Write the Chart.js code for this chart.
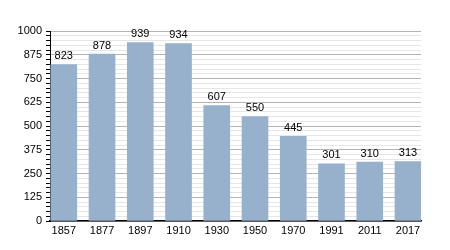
<!DOCTYPE html>
<html>
<head>
<meta charset="utf-8">
<script src="https://cdn.jsdelivr.net/npm/chart.js@4/dist/chart.umd.min.js"></script>
<style>
  body { margin: 0; background: #fff; }
  #wrap { width: 450px; height: 250px; }
</style>
</head>
<body>
<div id="wrap"><canvas id="canvas"></canvas></div>
<script>
// Population by census year
const years = ["1857", "1877", "1897", "1910", "1930", "1950", "1970", "1991", "2011", "2017"];
const population = [823, 878, 939, 934, 607, 550, 445, 301, 310, 313];

// Value labels above each bar
const valueLabels = {
  id: "valueLabels",
  afterDatasetsDraw(chart) {
    const ctx = chart.ctx;
    const meta = chart.getDatasetMeta(0);
    ctx.save();
    ctx.font = "11px 'Liberation Sans', Arial, sans-serif";
    ctx.fillStyle = "#000";
    ctx.textAlign = "center";
    ctx.textBaseline = "bottom";
    meta.data.forEach((bar, i) => {
      ctx.fillText(population[i], bar.x, bar.y - 3);
    });
    ctx.restore();
  }
};

const points = population.map((v, i) => ({ x: i, y: v }));

const config = {
  type: "bar",
  data: {
    datasets: [{
      data: points,
      backgroundColor: "#97b0cc",
      barThickness: 26
    }]
  },
  options: {
    responsive: false,
    animation: false,
    layout: { padding: { top: 31, right: 29, bottom: 0, left: 0 } },
    plugins: { legend: { display: false }, tooltip: { enabled: false } },
    scales: {
      x: {
        type: "linear",
        offset: false,
        min: -0.36,
        max: 9.34,
        afterBuildTicks(scale) {
          scale.ticks = years.map((y, i) => ({ value: i }));
        },
        afterFit(scale) { scale.height = 29; },
        grid: { display: false, drawTicks: false, offset: false },
        border: { color: "#000", width: 1.5 },
        ticks: {
          color: "#000",
          autoSkip: false,
          maxRotation: 0,
          padding: 3,
          font: { family: "'Liberation Sans', Arial, sans-serif", size: 11 },
          callback: (v) => years[v]
        }
      },
      y: {
        min: 0,
        max: 1000,
        afterBuildTicks(scale) {
          const t = [];
          for (let v = 0; v <= 1000; v += 25) t.push({ value: v });
          scale.ticks = t;
        },
        afterFit(scale) { scale.width = 50; },
        border: { color: "#000", width: 1 },
        grid: {
          color: (c) => (c.tick && c.tick.value % 125 === 0) ? "#b4b4b4" : "#e6e6e6",
          tickColor: "#000",
          tickLength: 4
        },
        ticks: {
          color: "#000",
          autoSkip: false,
          padding: 4,
          font: { family: "'Liberation Sans', Arial, sans-serif", size: 11 },
          callback: (v) => (v % 125 === 0 ? v : "")
        }
      }
    }
  },
  plugins: [valueLabels]
};

const canvas = document.getElementById("canvas");
canvas.width = 450;
canvas.height = 250;
window.myBar = new Chart(canvas.getContext("2d"), config);
</script>
</body>
</html>
